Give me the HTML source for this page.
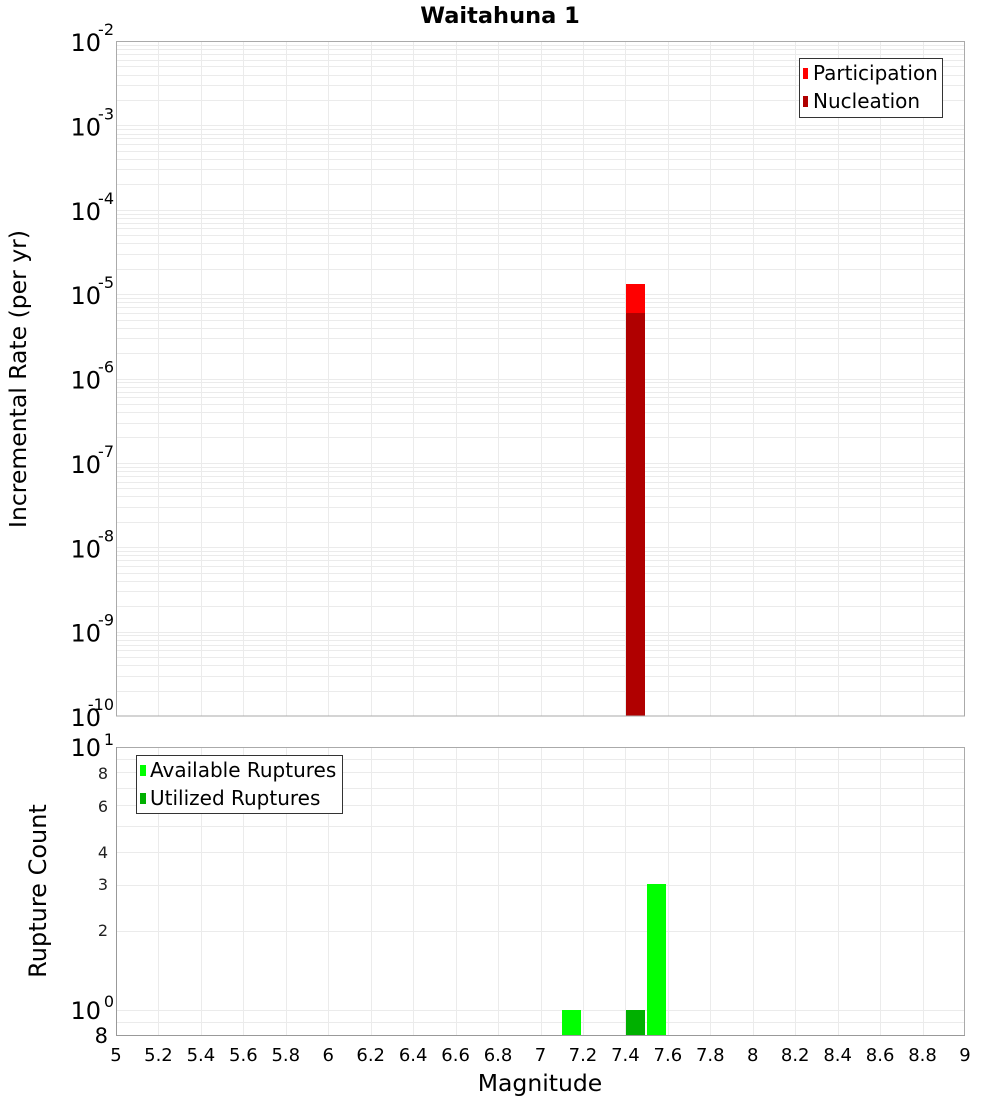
<!DOCTYPE html>
<html><head><meta charset="utf-8"><style>
html,body{margin:0;padding:0;background:#fff;}
svg{display:block;font-family:"DejaVu Sans","Liberation Sans",sans-serif;}
</style></head><body>
<svg id="s" width="1000" height="1100" xmlns="http://www.w3.org/2000/svg">
<rect width="1000" height="1100" fill="#fff"/>
<g id="grid" stroke="#ebebeb" stroke-width="1"></g>
<rect x="626" y="284" width="19" height="432" fill="#ff0000"/>
<rect x="626" y="313" width="19" height="403" fill="#b00000"/>
<rect x="562" y="1010" width="19" height="25" fill="#00ff00"/>
<rect x="626" y="1010" width="19" height="25" fill="#00b000"/>
<rect x="647" y="884" width="19" height="151" fill="#00ff00"/>
<rect x="116.5" y="41.5" width="848" height="674.5" fill="none" stroke="#aaa"/>
<rect x="116.5" y="747.5" width="848" height="288" fill="none" stroke="#aaa"/>
<line x1="116" y1="1035.5" x2="965" y2="1035.5" stroke="#999"/>
<line x1="116.5" y1="747" x2="116.5" y2="1036" stroke="#999"/>
<text x="500" y="23" font-size="22.5" font-weight="bold" text-anchor="middle">Waitahuna 1</text>
<rect x="799.5" y="58.5" width="143" height="59" fill="#fff" stroke="#333"/>
<rect x="803" y="68" width="5" height="11" fill="#ff0000"/>
<rect x="803" y="96" width="5" height="11" fill="#b00000"/>
<text x="813" y="80" font-size="20">Participation</text>
<text x="813" y="108" font-size="20">Nucleation</text>
<rect x="136.5" y="755.5" width="206" height="58" fill="#fff" stroke="#333"/>
<rect x="140" y="765" width="6" height="11" fill="#00ff00"/>
<rect x="140" y="793" width="6" height="11" fill="#00b000"/>
<text x="150" y="777" font-size="20">Available Ruptures</text>
<text x="150" y="805" font-size="20">Utilized Ruptures</text>
<g id="labels" font-size="24"></g>
<text transform="translate(26,379) rotate(-90)" font-size="23.5" text-anchor="middle">Incremental Rate (per yr)</text>
<text transform="translate(46,891) rotate(-90)" font-size="24" text-anchor="middle">Rupture Count</text>
<text x="540" y="1091" font-size="23.5" text-anchor="middle">Magnitude</text>
<g font-size="16" text-anchor="end" fill="#222">
<text x="108" y="779">8</text>
<text x="108" y="812">6</text>
<text x="108" y="858">4</text>
<text x="108" y="890">3</text>
<text x="108" y="936">2</text>
</g>
<text x="108" y="1043" font-size="21" text-anchor="end">8</text>
</svg>
<script>
var NS="http://www.w3.org/2000/svg",g=document.getElementById("grid"),L=document.getElementById("labels");
function ln(x1,y1,x2,y2){var l=document.createElementNS(NS,"line");l.setAttribute("x1",x1);l.setAttribute("y1",y1);l.setAttribute("x2",x2);l.setAttribute("y2",y2);g.appendChild(l);}
function tx(x,y,s,sz,anc){var t=document.createElementNS(NS,"text");t.setAttribute("x",x);t.setAttribute("y",y);t.setAttribute("font-size",sz);if(anc)t.setAttribute("text-anchor",anc);t.textContent=s;L.appendChild(t);}
var x0=116,ppu=212.25;
for(var i=1;i<20;i++){var x=Math.round(x0+i*0.2*ppu)+0.5;ln(x,41,x,716);ln(x,747,x,1035);}
var dp=84.375;
for(var k=0;k<8;k++){var yl=41+dp*(k+1);for(var m=2;m<=10;m++){var y=Math.round(yl-Math.log10(m)*dp)+0.5;if(y>41&&y<716)ln(117,y,965,y);}}
var bd=263;[0.9,1,2,3,4,5,6,7,8,9].forEach(function(v){var y=Math.round(1010-Math.log10(v)*bd)+0.5;if(y>747&&y<1035)ln(117,y,965,y);});
for(var k=0;k<=8;k++){var y=41+dp*k;tx(101,y+10,"10",24,"end");tx(114,y-6,"-"+(k+2),16,"end");}
tx(101,756,"10",24,"end");tx(114,745,"1",16,"end");
tx(101,1019,"10",24,"end");tx(114,1007,"0",16,"end");
for(var i=0;i<=20;i++){var v=5+i*0.2;var s=(Math.round(v*10)/10).toString();tx(x0+i*0.2*ppu,1061,s,18,"middle");}
</script>
</body></html>
